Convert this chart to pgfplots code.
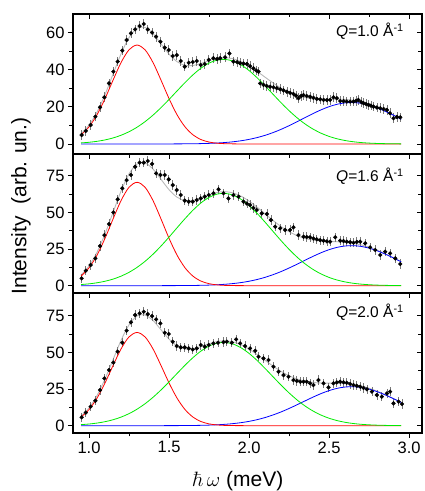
\documentclass[border=0pt]{standalone}
\usepackage[no-math]{fontspec}
\setmainfont{Liberation Sans}
\usepackage{pgfplots}
\pgfplotsset{compat=1.18}
\usepackage{pgfplotstable}

\definecolor{fitgray}{RGB}{185,185,185}
\definecolor{errgray}{RGB}{120,120,120}
\definecolor{cred}{RGB}{255,0,0}
\definecolor{cgreen}{RGB}{0,235,0}
\definecolor{cblue}{RGB}{0,0,255}

% fit components: x, red, green, blue, total
\pgfplotstableread{
x r g b f
0.95 4.86 0.56 0 5.42
1.00 9.17 0.90 0 10.07
1.05 15.69 1.42 0 17.11
1.10 24.37 2.17 0 26.54
1.15 34.28 3.23 0 37.51
1.20 43.76 4.67 0 48.43
1.25 50.66 6.58 0 57.24
1.30 53.20 9.00 0 62.20
1.35 50.66 11.99 0 62.65
1.40 43.76 15.52 0.01 59.29
1.45 34.28 19.55 0.01 53.84
1.50 24.37 23.94 0.02 48.33
1.55 15.69 28.52 0.04 44.25
1.60 9.17 33.04 0.07 42.28
1.65 4.86 37.23 0.11 42.20
1.70 2.34 40.80 0.19 43.33
1.75 1.02 43.50 0.32 44.84
1.80 0.40 45.10 0.50 46.00
1.85 0.14 45.47 0.78 46.39
1.90 0.05 44.60 1.17 45.82
1.95 0.01 42.54 1.72 44.27
2.00 0 39.47 2.47 41.94
2.05 0 35.61 3.43 39.04
2.10 0 31.25 4.65 35.90
2.15 0 26.68 6.13 32.81
2.20 0 22.15 7.87 30.02
2.25 0 17.88 9.84 27.72
2.30 0 14.04 11.98 26.02
2.35 0 10.73 14.19 24.92
2.40 0 7.97 16.36 24.33
2.45 0 5.76 18.37 24.13
2.50 0 4.05 20.07 24.12
2.55 0 2.77 21.35 24.12
2.60 0 1.84 22.11 23.95
2.65 0 1.19 22.29 23.48
2.70 0 0.75 21.87 22.62
2.75 0 0.46 20.90 21.36
2.80 0 0.27 19.43 19.70
2.85 0 0.16 17.59 17.75
2.90 0 0.09 15.51 15.60
2.95 0 0.05 13.30 13.35
}\fitA

\pgfplotstableread{
x r g b f
0.95 6.44 0.77 0 7.21
1.00 12.15 1.25 0 13.40
1.05 20.80 1.97 0 22.77
1.10 32.29 3.01 0 35.30
1.15 45.43 4.47 0 49.90
1.20 57.99 6.47 0 64.46
1.25 67.14 9.11 0 76.25
1.30 70.50 12.47 0 82.97
1.35 67.14 16.59 0 83.73
1.40 57.99 21.49 0.01 79.49
1.45 45.43 27.06 0.01 72.50
1.50 32.29 33.14 0.03 65.46
1.55 20.80 39.49 0.05 60.34
1.60 12.15 45.74 0.08 57.97
1.65 6.44 51.55 0.14 58.13
1.70 3.09 56.50 0.24 59.83
1.75 1.35 60.23 0.39 61.97
1.80 0.53 62.45 0.61 63.59
1.85 0.19 62.96 0.95 64.10
1.90 0.06 61.75 1.44 63.25
1.95 0.02 58.91 2.11 61.04
2.00 0 54.65 3.02 57.67
2.05 0 49.31 4.20 53.51
2.10 0 43.27 5.69 48.96
2.15 0 36.94 7.51 44.45
2.20 0 30.67 9.64 40.31
2.25 0 24.76 12.05 36.81
2.30 0 19.44 14.66 34.10
2.35 0 14.85 17.37 32.22
2.40 0 11.03 20.03 31.06
2.45 0 7.97 22.48 30.45
2.50 0 5.60 24.57 30.17
2.55 0 3.83 26.14 29.97
2.60 0 2.55 27.07 29.62
2.65 0 1.64 27.29 28.93
2.70 0 1.04 26.78 27.82
2.75 0 0.63 25.58 26.21
2.80 0 0.38 23.79 24.17
2.85 0 0.22 21.54 21.76
2.90 0 0.12 18.98 19.10
2.95 0 0.07 16.28 16.35
}\fitB

\pgfplotstableread{
x r g b f
0.95 5.81 0.70 0 6.51
1.00 10.96 1.13 0 12.09
1.05 18.76 1.77 0 20.53
1.10 29.13 2.71 0 31.84
1.15 40.98 4.03 0 45.01
1.20 52.32 5.83 0 58.15
1.25 60.57 8.21 0 68.78
1.30 63.60 11.24 0 74.84
1.35 60.57 14.96 0 75.53
1.40 52.32 19.37 0.01 71.70
1.45 40.98 24.40 0.01 65.39
1.50 29.13 29.88 0.02 59.03
1.55 18.76 35.60 0.04 54.40
1.60 10.96 41.24 0.08 52.28
1.65 5.81 46.48 0.14 52.43
1.70 2.79 50.94 0.23 53.96
1.75 1.22 54.30 0.38 55.90
1.80 0.48 56.30 0.60 57.38
1.85 0.17 56.77 0.93 57.87
1.90 0.06 55.68 1.40 57.14
1.95 0.02 53.11 2.06 55.19
2.00 0 49.27 2.94 52.21
2.05 0 44.46 4.09 48.55
2.10 0 39.02 5.55 44.57
2.15 0 33.30 7.32 40.62
2.20 0 27.65 9.39 37.04
2.25 0 22.32 11.74 34.06
2.30 0 17.53 14.29 31.82
2.35 0 13.39 16.92 30.31
2.40 0 9.95 19.52 29.47
2.45 0 7.19 21.91 29.10
2.50 0 5.05 23.94 28.99
2.55 0 3.45 25.47 28.92
2.60 0 2.29 26.37 28.66
2.65 0 1.48 26.59 28.07
2.70 0 0.93 26.09 27.02
2.75 0 0.57 24.92 25.49
2.80 0 0.34 23.18 23.52
2.85 0 0.20 20.99 21.19
2.90 0 0.11 18.49 18.60
2.95 0 0.06 15.87 15.93
}\fitC

% measured points
\pgfplotstableread{
x y
0.954 4.8
0.980 7.0
1.010 10.2
1.040 14.7
1.069 19.7
1.096 25.1
1.125 32.6
1.152 38.9
1.179 44.3
1.208 50.2
1.235 55.9
1.262 59.5
1.288 61.6
1.316 63.4
1.342 64.5
1.367 61.6
1.394 59.9
1.419 57.7
1.446 55.0
1.473 51.8
1.498 50.5
1.523 47.3
1.548 47.8
1.573 44.6
1.598 41.6
1.623 43.7
1.648 44.1
1.673 44.6
1.698 42.5
1.723 43.0
1.748 45.2
1.777 46.1
1.800 45.7
1.819 46.1
1.850 46.6
1.877 48.7
1.902 44.3
1.925 44.0
1.944 43.4
1.965 43.2
1.986 43.0
2.006 41.8
2.027 40.7
2.045 39.5
2.059 38.9
2.069 32.6
2.090 31.8
2.110 31.2
2.131 30.8
2.152 30.5
2.173 30.0
2.194 29.4
2.215 28.8
2.236 28.1
2.256 27.5
2.277 26.9
2.293 26.0
2.309 24.6
2.325 25.8
2.340 26.3
2.360 25.8
2.381 25.4
2.402 24.8
2.423 24.2
2.444 24.0
2.465 23.7
2.486 23.6
2.506 23.7
2.527 25.1
2.548 24.6
2.569 23.1
2.590 23.0
2.610 22.8
2.631 22.8
2.652 22.8
2.668 23.2
2.683 23.7
2.700 22.6
2.715 21.9
2.730 21.5
2.746 21.0
2.761 20.6
2.777 20.1
2.798 19.6
2.819 19.2
2.840 18.8
2.861 18.3
2.880 16.5
2.902 13.8
2.923 14.5
2.944 14.3
}\dataA

\pgfplotstableread{
x y
0.954 5.0
0.980 10.2
1.010 14.1
1.040 18.6
1.069 27.0
1.096 34.5
1.125 42.0
1.152 50.0
1.179 58.9
1.208 66.4
1.235 72.0
1.262 75.5
1.288 81.1
1.316 83.9
1.342 83.9
1.367 85.0
1.394 83.0
1.419 76.6
1.446 75.5
1.473 75.5
1.498 72.5
1.523 68.6
1.548 65.2
1.573 61.8
1.598 58.0
1.623 57.3
1.648 57.3
1.673 58.4
1.698 59.5
1.723 60.7
1.748 61.8
1.777 63.0
1.809 65.7
1.840 63.0
1.871 59.5
1.902 61.8
1.934 60.7
1.965 57.3
1.986 56.0
2.006 55.0
2.027 53.0
2.048 51.6
2.079 49.3
2.111 48.9
2.136 44.8
2.163 40.2
2.194 39.1
2.225 38.0
2.256 38.0
2.277 39.8
2.308 34.5
2.340 33.4
2.360 33.2
2.381 33.0
2.402 32.2
2.423 31.6
2.444 31.0
2.465 30.7
2.486 30.2
2.506 30.0
2.538 33.0
2.569 30.7
2.590 30.4
2.610 30.0
2.631 29.6
2.652 29.3
2.673 29.8
2.694 30.0
2.725 28.9
2.756 26.1
2.788 24.3
2.819 20.9
2.850 23.2
2.881 22.0
2.913 18.6
2.944 14.8
}\dataB

\pgfplotstableread{
x y
0.954 5.7
0.980 8.9
1.010 13.0
1.040 17.0
1.069 24.3
1.096 32.3
1.125 38.0
1.152 43.0
1.179 50.5
1.208 56.6
1.235 64.8
1.262 70.5
1.288 75.5
1.316 76.6
1.342 77.7
1.367 76.1
1.394 74.8
1.419 72.5
1.446 69.8
1.473 63.4
1.498 62.5
1.523 57.3
1.548 54.3
1.573 53.4
1.598 53.4
1.623 52.7
1.648 52.0
1.673 52.7
1.698 55.0
1.723 53.9
1.748 55.0
1.777 56.1
1.806 56.6
1.840 57.0
1.861 57.3
1.892 56.6
1.919 58.9
1.944 56.1
1.975 54.3
2.006 52.7
2.038 51.1
2.059 47.0
2.090 45.9
2.121 44.8
2.152 40.2
2.184 36.8
2.215 34.5
2.246 33.4
2.277 31.1
2.298 30.5
2.319 30.0
2.340 30.0
2.360 30.0
2.381 28.9
2.402 27.7
2.433 31.1
2.465 28.9
2.496 26.1
2.527 28.9
2.548 29.5
2.569 30.0
2.590 29.6
2.610 29.3
2.631 28.5
2.652 27.7
2.673 27.2
2.694 26.6
2.715 25.7
2.736 24.8
2.767 23.2
2.798 20.9
2.829 19.8
2.861 22.0
2.881 23.2
2.902 15.2
2.934 16.4
2.955 14.8
}\dataC

\pgfplotsset{
  base/.style={scale only axis, width=349pt, xmin=0.9, xmax=3.08,
    xtick={1,1.5,2,2.5,3}, minor x tick num=1, minor y tick num=1,
    axis line style={line width=1.1pt, black},
    major tick style={line width=0.9pt, black},
    minor tick style={line width=0.9pt, black},
    major tick length=5pt, minor tick length=3.5pt,
    tick label style={font=\fontsize{16.5}{16.5}\selectfont, black},
    /pgf/number format/assume math mode=true,
    xticklabel style={/pgf/number format/.cd, fixed, fixed zerofill, precision=1}},
  pA/.style={base, at={(73pt,337pt)}, anchor=south west, height=140pt, ymin=-5.4, ymax=69.9, ytick={0,20,40,60}},
  pB/.style={base, at={(73pt,198pt)}, anchor=south west, height=139pt, ymin=-5, ymax=89.8, ytick={0,25,50,75}},
  pC/.style={base, at={(73pt,58pt)}, anchor=south west, height=140pt, ymin=-5, ymax=90.5, ytick={0,25,50,75}},
  mainax/.style={tick align=outside, xtick pos=left, ytick pos=left},
  overax/.style={tick align=inside, xtick pos=right, ytick pos=right, xticklabels={}, yticklabels={}},
  fitline/.style={color=fitgray, line width=0.9pt, smooth, no markers},
  comp/.style={line width=0.8pt, smooth, no markers},
  datapts/.style={only marks, mark=*, mark size=1.9pt, black, mark options={fill=black, draw=black},
    error bars/y dir=both, error bars/y fixed=#1, error bars/error mark=none,
    error bars/error bar style={color=errgray, line width=0.7pt}},
}
\tikzset{qlab/.style={anchor=north east, inner sep=0pt, font=\fontsize{15.5}{15.5}\selectfont}}

\begin{document}
\begin{tikzpicture}
\useasboundingbox (0,0) rectangle (425pt,491pt);
% top panel
\begin{axis}[pA, mainax, xticklabels={}]
  \addplot[fitline] table[x=x,y=f]{\fitA};
  \addplot[datapts=2.6] table[x=x,y=y]{\dataA};
  \addplot[comp, cblue] table[x=x,y=b]{\fitA};
  \addplot[comp, cred] table[x=x,y=r]{\fitA};
  \addplot[comp, cgreen] table[x=x,y=g]{\fitA};
  \node[qlab] at (rel axis cs:0.948,0.935) {\textit{Q}=1.0 Å\textsuperscript{-1}};
\end{axis}
\begin{axis}[pA, overax]\end{axis}
% middle panel
\begin{axis}[pB, mainax, xticklabels={}]
  \addplot[fitline] table[x=x,y=f]{\fitB};
  \addplot[datapts=3.2] table[x=x,y=y]{\dataB};
  \addplot[comp, cblue] table[x=x,y=b]{\fitB};
  \addplot[comp, cred] table[x=x,y=r]{\fitB};
  \addplot[comp, cgreen] table[x=x,y=g]{\fitB};
  \node[qlab] at (rel axis cs:0.948,0.90) {\textit{Q}=1.6 Å\textsuperscript{-1}};
\end{axis}
\begin{axis}[pB, overax]\end{axis}
% bottom panel
\begin{axis}[pC, mainax]
  \addplot[fitline] table[x=x,y=f]{\fitC};
  \addplot[datapts=3.2] table[x=x,y=y]{\dataC};
  \addplot[comp, cblue] table[x=x,y=b]{\fitC};
  \addplot[comp, cred] table[x=x,y=r]{\fitC};
  \addplot[comp, cgreen] table[x=x,y=g]{\fitC};
  \node[qlab] at (rel axis cs:0.948,0.925) {\textit{Q}=2.0 Å\textsuperscript{-1}};
\end{axis}
\begin{axis}[pC, overax]\end{axis}
% axis titles
\node[rotate=90, font=\fontsize{21}{21}\selectfont] at (21pt,285pt) {Intensity\ \ (arb. un.)};
\node[anchor=base, font=\fontsize{21}{21}\selectfont] at (238pt,5pt) {$\hbar\,\omega$ (meV)};
\end{tikzpicture}
\end{document}
